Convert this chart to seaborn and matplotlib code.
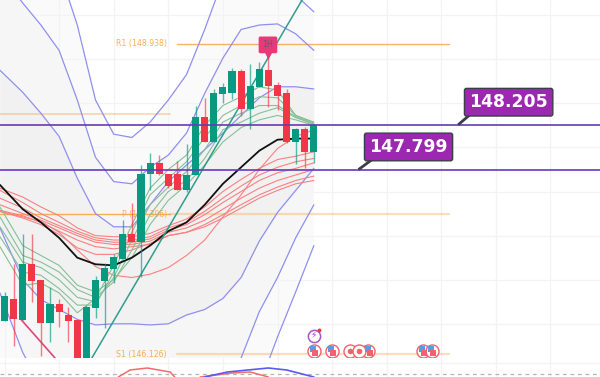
import numpy as np
import pandas as pd
import seaborn as sns
import matplotlib
matplotlib.use("Agg")
import matplotlib.pyplot as plt

# ---- candles (bar index 0..34)
opens = [146.425,146.628,146.435,146.945,146.800,146.410,146.583,146.480,146.435,145.900,146.541,146.788,146.897,146.988,147.215,147.139,147.759,147.859,147.762,147.759,147.614,147.750,148.279,148.049,148.487,148.494,148.690,148.348,148.551,148.705,148.563,148.494,148.052,148.164,147.958]
closes = [146.652,146.441,146.945,146.788,146.410,146.583,146.507,146.428,145.900,146.553,146.795,146.906,147.006,147.215,147.139,147.759,147.859,147.762,147.650,147.614,147.750,148.279,148.049,148.491,148.545,148.690,148.348,148.557,148.708,148.557,148.466,148.052,148.164,147.958,148.206]
highs = [146.689,146.943,147.215,147.215,146.800,146.734,146.625,146.555,146.435,146.571,146.834,146.954,147.031,147.342,147.496,147.840,147.949,147.931,147.762,147.877,148.031,148.378,148.448,148.530,148.584,148.720,148.711,148.757,148.775,148.838,148.593,148.530,148.176,148.185,148.212]
lows = [146.425,146.202,146.435,146.601,146.111,146.238,146.371,146.238,145.900,145.850,146.450,146.359,146.767,146.988,147.139,146.825,147.614,147.750,147.632,147.614,147.596,147.750,148.049,148.049,148.403,148.439,148.285,148.167,148.548,148.367,148.339,148.040,147.850,147.813,147.861]

# ---- indicator lines, sampled every second bar (first sample at the chart's left edge)
line_bars = [-0.5] + list(range(2, 35, 2))
upper3 = [151.20,150.52,150.06,149.61,149.11,148.43,148.12,148.09,148.23,148.43,148.66,149.07,149.52,149.79,149.97,149.79,149.38,149.23]
upper2 = [149.58,149.31,149.11,148.88,148.43,147.91,147.69,147.67,147.82,147.93,148.13,148.49,148.81,149.07,149.11,149.12,149.03,148.88]
upper1 = [148.70,148.50,148.31,148.10,147.72,147.40,147.28,147.28,147.48,147.69,147.84,147.98,148.13,148.29,148.45,148.55,148.55,148.53]
basis = [147.66,147.44,147.32,147.18,147.00,146.94,146.93,147.00,147.11,147.24,147.32,147.48,147.67,147.82,147.97,148.07,148.08,148.08]
lower1 = [147.27,146.80,146.62,146.53,146.44,146.39,146.40,146.40,146.39,146.40,146.48,146.53,146.63,146.82,147.15,147.41,147.61,147.81]
lower2 = [146.68,146.14,145.84,145.53,145.26,145.07,144.98,144.98,145.03,145.17,145.30,145.53,145.84,146.09,146.51,146.82,147.18,147.48]
lower3 = [145.7,145.2,144.9,144.6,144.3,144.1,144.0,144.0,144.0,144.1,144.3,144.5,144.8,145.3,145.84,146.28,146.69,147.11]

red1 = [147.63,147.55,147.46,147.38,147.27,147.20,147.19,147.19,147.22,147.29,147.35,147.46,147.60,147.71,147.81,147.89,147.92,147.96]
red2 = [147.61,147.50,147.40,147.32,147.24,147.18,147.16,147.16,147.19,147.27,147.32,147.42,147.54,147.65,147.75,147.82,147.87,147.90]
red3 = [147.54,147.45,147.36,147.29,147.22,147.16,147.14,147.14,147.17,147.25,147.30,147.39,147.50,147.60,147.70,147.77,147.81,147.86]
red4 = [147.48,147.40,147.34,147.27,147.20,147.14,147.12,147.12,147.15,147.23,147.27,147.34,147.44,147.54,147.63,147.70,147.75,147.80]
red5 = [147.43,147.38,147.32,147.24,147.16,147.10,147.08,147.10,147.12,147.20,147.23,147.30,147.39,147.48,147.57,147.64,147.70,147.74]
red6 = [147.42,147.36,147.30,147.21,147.09,147.03,147.03,147.07,147.13,147.20,147.23,147.28,147.36,147.45,147.54,147.61,147.67,147.70]
red7 = [147.42,147.37,147.33,147.23,147.07,146.92,146.84,146.82,146.85,146.91,147.02,147.16,147.37,147.57,147.80,147.99,148.10,148.16]

green1 = [147.10,146.75,146.77,146.68,146.50,146.63,146.93,147.30,147.63,147.80,147.93,148.20,148.38,148.46,148.55,148.52,148.29,148.23]
green2 = [147.19,146.87,146.84,146.72,146.57,146.57,146.87,147.23,147.57,147.72,147.87,148.09,148.29,148.38,148.46,148.45,148.29,148.22]
green3 = [147.28,146.96,146.91,146.80,146.64,146.60,146.82,147.16,147.48,147.64,147.78,147.98,148.23,148.31,148.38,148.38,148.28,148.21]
green4 = [147.37,147.02,146.96,146.87,146.71,146.64,146.78,147.07,147.39,147.60,147.70,147.90,148.16,148.23,148.31,148.36,148.27,148.21]
green5 = [147.46,147.11,147.02,146.93,146.75,146.69,146.80,147.00,147.30,147.52,147.66,147.84,148.05,148.18,148.25,148.29,148.25,148.20]

# ---- levels and trend lines
level_high = 148.205
level_low = 147.799
r1, pivot, s1 = 148.938, 147.396, 146.126
prev_r1 = 148.30
trend_up_bars, trend_up_prices = [9.6, 32.7], [146.09, 149.337]
trend_dn_bars, trend_dn_prices = [1.7, 5.55], [146.45, 146.09]

# ---- events
flag_bars = [34, 36, 40, 46, 47]
dot_bars = [38, 39]
event_price = 146.153
flash_bar, flash_price = 34, 146.29

# ---- lower oscillator pane
osc_blue_bars, osc_blue = [22, 24.5, 29, 31, 34], [-3, 2, 6, 4, -3]
osc_red1_bars, osc_red1 = [12.5, 13.8, 15.7, 18.2, 18.7], [-3, 4, 6, 2, -3]
osc_red2_bars, osc_red2 = [21.5, 25, 27, 29], [-3, 1, 2, -3]

sns.set_theme(style="white")
plt.rcParams["font.family"] = ["DejaVu Sans"]
UP, DOWN = "#089981", "#F23645"
BLUE, RED, GREEN = "#8f8ff2", "#f98080", "#86c096"
ORANGE = "#f7a13a"
PURPLE = "#673ab7"

fig = plt.figure(figsize=(6, 3.77), dpi=100)
fig.patch.set_facecolor("white")
ax = fig.add_axes([0, 19 / 377, 1, 358 / 377])
ax2 = fig.add_axes([0, 0, 1, 19 / 377])
xlim = (-0.495, 65.44)
for a in (ax, ax2):
    a.set_xlim(*xlim)
    a.set_xticks(range(0, 66, 6))
    a.tick_params(length=0, labelbottom=False, labelleft=False)
    a.grid(True, color="#f3f3f6", lw=0.9)
    a.set_axisbelow(True)
    for s in a.spines.values():
        s.set_visible(False)
ax.set_ylim(146.090, 149.337)
ax.set_yticks(np.arange(146.4, 149.4, 0.4))
ax2.set_ylim(-3, 16)
ax2.set_yticks([11])

# shaded channel
ax.fill_between(line_bars, lower3, upper3, color="#fafafa", lw=0, zorder=0.5)
ax.fill_between(line_bars, lower2, upper2, color="#f6f6f6", lw=0, zorder=0.6)
ax.fill_between(line_bars, lower1, upper1, color="#f1f1f1", lw=0, zorder=0.7)

# pivot levels
ax.plot([19.0, 48.9], [r1, r1], color=ORANGE, lw=1.0, alpha=0.8, zorder=1)
ax.plot([19.0, 48.9], [s1, s1], color=ORANGE, lw=1.6, alpha=0.35, zorder=1)
ax.plot([-0.495, 18.2], [pivot, pivot], color=ORANGE, lw=1.0, alpha=0.85, zorder=1)
ax.plot([18.2, 48.9], [pivot, pivot], color=ORANGE, lw=1.6, alpha=0.35, zorder=1)
ax.plot([-0.495, 18.2], [prev_r1, prev_r1], color=ORANGE, lw=1.3, alpha=0.4, zorder=1)
for lab, val in [(f"R1 ({r1})", r1), (f"P ({pivot})", pivot), (f"S1 ({s1})", s1)]:
    ax.text(17.85, val, lab, ha="right", va="center", fontsize=5.6, color=ORANGE, alpha=0.85, zorder=1.2)

# indicator lines through seaborn
def draw(vals, color, lw, z, alpha=1.0):
    sns.lineplot(x=line_bars, y=vals, ax=ax, color=color, lw=lw, alpha=alpha,
                 errorbar=None, legend=False, zorder=z)

for v in (upper3, upper2, upper1, lower1, lower2, lower3):
    draw(v, BLUE, 0.9, 2)
for v in (red1, red2, red3, red4, red5, red6, red7):
    draw(v, RED, 0.8, 2.2)
for v in (green1, green2, green3, green4, green5):
    draw(v, GREEN, 0.8, 2.3)
draw(basis, "#111111", 1.3, 2.4)

sns.lineplot(x=trend_up_bars, y=trend_up_prices, ax=ax, color="#2f9e8f", lw=1.1, errorbar=None, zorder=2.5)
sns.lineplot(x=trend_dn_bars, y=trend_dn_prices, ax=ax, color="#e0457b", lw=1.2, errorbar=None, zorder=2.5)

# candles
df = pd.DataFrame(dict(o=opens, c=closes, h=highs, l=lows))
df["bar"] = df.index
df["col"] = np.where(df.c >= df.o, UP, DOWN)
ax.vlines(df.bar, df.l, df.h, colors=df.col, lw=1.0, alpha=0.65, zorder=3)
ax.bar(df.bar, (df.c - df.o).abs(), bottom=df[["o", "c"]].min(axis=1), width=0.78,
       color=df.col, lw=0, zorder=3.2)

# purple levels with callouts
for val, (tx, ty) in [(level_high, (55.4, 148.41)), (level_low, (44.4, 148.004))]:
    ax.axhline(val, color=PURPLE, lw=1.2, zorder=4)
    ax.text(tx, ty, f"{val:.3f}", color="white", fontsize=12.4, fontweight="bold", ha="center",
            va="center", zorder=6, family="DejaVu Sans",
            bbox=dict(boxstyle="round,pad=0.28,rounding_size=0.12", fc="#9c27b0", ec="#3d3d4a", lw=1))
for (x0, y0, x1, y1) in [(49.85, level_high, 51.2, 148.30), (38.9, level_low, 40.4, 147.89)]:
    ax.plot([x0, x1], [y0, y1], color="#3d3d4a", lw=2, zorder=5, solid_capstyle="butt")

# signal badge
ax.scatter([28.95], [148.835], marker="v", s=38, color="#e63a78", lw=0, zorder=5)
ax.text(28.95, 148.93, "1H", ha="center", va="center", fontsize=5.8, color="#55606e", zorder=6,
        bbox=dict(boxstyle="round,pad=0.48,rounding_size=0.2", fc="#e63a78", ec="none"))

# event icons
n = len(flag_bars)
ax.scatter(flag_bars + dot_bars, [event_price] * 7, s=88, fc="white", ec="#f4606c", lw=1.0, zorder=7)
fb = np.array(flag_bars)
ax.scatter(fb - 0.08, [event_price + 0.015] * n, marker="s", s=24, color="#5b9be0", lw=0, zorder=8)
ax.scatter(fb + 0.12, [event_price - 0.022] * n, marker="s", s=16, color="#f4606c", lw=0, zorder=8)
ax.scatter(dot_bars, [event_price] * 2, s=16, color="#f4606c", lw=0, zorder=8)
ax.scatter([flash_bar], [flash_price], s=78, fc="white", ec="#a855c8", lw=1.1, zorder=7)
ax.text(flash_bar, flash_price, "\u26a1", fontsize=6.5, color="#a040c0", ha="center", va="center", zorder=8)
ax.scatter([flash_bar + 0.6], [flash_price + 0.05], s=8, color="#f23645", lw=0, zorder=9)

# oscillator pane
ax2.axhline(0, color="#b5b5b5", lw=0.9, ls=(0, (3, 3)))
ax2.plot(osc_red1_bars, osc_red1, color="#f56a6a", lw=1.1)
ax2.plot(osc_red2_bars, osc_red2, color="#f56a6a", lw=1.1)
ax2.plot(osc_blue_bars, osc_blue, color="#5a5af0", lw=1.2)

fig.savefig("out.png", dpi=100)
